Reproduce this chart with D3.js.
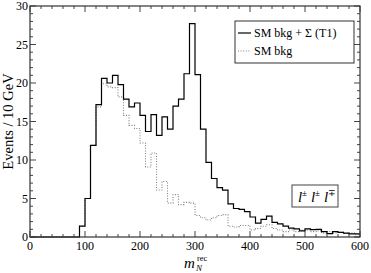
<!DOCTYPE html>
<html>
<head>
<meta charset="utf-8">
<script src="https://cdnjs.cloudflare.com/ajax/libs/d3/7.8.5/d3.min.js"></script>
<style>
  body { margin: 0; background: #fff; }
  svg { display: block; }
  text { font-family: "Liberation Serif", "DejaVu Serif", serif; fill: #000; }
</style>
</head>
<body>
<script>
// bin lower edges (GeV), 10 GeV wide
const binEdges = d3.range(0, 600, 10);

// SM bkg + Sigma (T1)
const totalCounts = [
  0, 0, 0, 0, 0, 0, 0, 0, 0,
  1.4, 5.0, 11.9, 17.2, 20.6, 20.0, 21.0, 19.8, 17.9, 16.9,
  17.4, 15.8, 13.7, 15.9, 13.2, 15.6, 14.0, 17.0, 17.9, 21.2,
  27.7, 21.1, 14.0, 9.7, 7.6, 6.4, 6.1, 4.3, 3.7, 3.6,
  3.3, 2.6, 1.8, 2.3, 2.7, 1.9, 1.7, 1.4, 1.15, 1.05,
  0.8, 1.05, 0.95, 1.0, 0.7, 0.45, 0.7, 0.6, 0.5, 0.4, 0.4
];

// SM bkg only
const bkgCounts = [
  0, 0, 0, 0, 0, 0, 0, 0, 0,
  1.4, 5.0, 11.9, 16.9, 19.9, 19.5, 19.4, 18.2, 15.8, 14.5,
  14.1, 12.2, 9.1, 10.9, 6.1, 7.2, 4.4, 5.5, 4.2, 4.5,
  4.4, 2.8, 2.5, 2.2, 2.5, 2.8, 2.9, 1.4, 1.3, 1.5,
  1.5, 0.9, 1.1, 1.4, 1.6, 1.1, 0.9, 0.7, 0.9, 0.7,
  0.9, 0.9, 0.7, 0.8, 0.5, 0.7, 0.5, 0.6, 0.45, 0.5, 0.3
];

const xMajorTicks = [0, 100, 200, 300, 400, 500, 600];
const yMajorTicks = [0, 5, 10, 15, 20, 25, 30];
const legendLabels = ["SM bkg + \u03A3 (T1)", "SM bkg"];
const channelSigns = ["\u00B1", "\u00B1", "\u2213"];

const W = 371, H = 273;
const m = {left: 30, right: 11, top: 6, bottom: 36};

const x = d3.scaleLinear().domain([0, 600]).range([m.left, W - m.right]);
const y = d3.scaleLinear().domain([0, 30]).range([H - m.bottom, m.top]);

const svg = d3.select("body").append("svg")
  .attr("width", W).attr("height", H);

// step path for one histogram
function steps(counts) {
  const pts = binEdges.map((e, i) => [e, counts[i]]);
  pts.push([600, counts[counts.length - 1]]);
  return d3.line().x(d => x(d[0])).y(d => y(d[1])).curve(d3.curveStepAfter)(pts);
}

svg.append("path")
  .attr("d", steps(bkgCounts))
  .attr("fill", "none")
  .attr("stroke", "#808080")
  .attr("stroke-width", 1.1)
  .attr("stroke-dasharray", "1,1.6");

svg.append("path")
  .attr("d", steps(totalCounts))
  .attr("fill", "none")
  .attr("stroke", "#000")
  .attr("stroke-width", 1.2);

// ticks, inward, on all four sides
const xMinor = d3.range(0, 601, 20).filter(v => v % 100);
const yMinor = d3.range(0, 31, 1).filter(v => v % 5);
const g = svg.append("g").attr("stroke", "#444").attr("stroke-width", 1);

function tickMarks(vals, len) {
  vals.forEach(v => {
    g.append("line").attr("x1", x(v)).attr("x2", x(v)).attr("y1", y(0)).attr("y2", y(0) - len);
    g.append("line").attr("x1", x(v)).attr("x2", x(v)).attr("y1", y(30)).attr("y2", y(30) + len);
  });
}
function tickMarksY(vals, len) {
  vals.forEach(v => {
    g.append("line").attr("y1", y(v)).attr("y2", y(v)).attr("x1", x(0)).attr("x2", x(0) + len);
    g.append("line").attr("y1", y(v)).attr("y2", y(v)).attr("x1", x(600)).attr("x2", x(600) - len);
  });
}
tickMarks(xMajorTicks, 6);
tickMarks(xMinor, 3);
tickMarksY(yMajorTicks, 6);
tickMarksY(yMinor, 3);

svg.append("rect")
  .attr("x", x(0)).attr("y", y(30))
  .attr("width", x(600) - x(0)).attr("height", y(0) - y(30))
  .attr("fill", "none").attr("stroke", "#333").attr("stroke-width", 1.2);

// tick labels
svg.append("g").selectAll("text").data(xMajorTicks).join("text")
  .attr("x", d => x(d)).attr("y", y(0) + 13)
  .attr("text-anchor", "middle").attr("font-size", 12)
  .text(d => d);

svg.append("g").selectAll("text").data(yMajorTicks).join("text")
  .attr("x", x(0) - 2).attr("y", d => y(d) + 4)
  .attr("text-anchor", "end").attr("font-size", 12)
  .text(d => d);

// axis titles
svg.append("text")
  .attr("transform", `translate(13,${(y(0) + y(30)) / 2}) rotate(-90)`)
  .attr("text-anchor", "middle").attr("font-size", 14.5)
  .text("Events / 10 GeV");

svg.append("text").attr("x", 184).attr("y", 268).attr("font-size", 15)
  .attr("font-style", "italic").text("m");
svg.append("text").attr("x", 197).attr("y", 261).attr("font-size", 8.5).text("rec");
svg.append("text").attr("x", 196).attr("y", 271).attr("font-size", 9)
  .attr("font-style", "italic").text("N");

// legend
const lg = svg.append("g");
lg.append("rect").attr("x", 235).attr("y", 21).attr("width", 119).attr("height", 42)
  .attr("fill", "#fff").attr("stroke", "#333").attr("stroke-width", 1);
lg.append("line").attr("x1", 238).attr("x2", 251).attr("y1", 33).attr("y2", 33)
  .attr("stroke", "#000").attr("stroke-width", 1.2);
lg.append("line").attr("x1", 238).attr("x2", 251).attr("y1", 51).attr("y2", 51)
  .attr("stroke", "#808080").attr("stroke-width", 1.1).attr("stroke-dasharray", "1,1.6");
lg.selectAll("text.lab").data(legendLabels).join("text")
  .attr("class", "lab")
  .attr("x", 254).attr("y", (d, i) => 37 + i * 18)
  .attr("font-size", 12)
  .text(d => d);

// channel label
svg.append("rect").attr("x", 292).attr("y", 185).attr("width", 46).attr("height", 22)
  .attr("fill", "#fff").attr("stroke", "#444").attr("stroke-width", 1);
const ch = svg.append("g");
channelSigns.forEach((s, i) => {
  ch.append("text").attr("x", 298 + i * 13).attr("y", 202)
    .attr("font-size", 15).attr("font-style", "italic").text("l");
  ch.append("text").attr("x", 302 + i * 13).attr("y", 196)
    .attr("font-size", 9).text(s);
});
</script>
</body>
</html>
